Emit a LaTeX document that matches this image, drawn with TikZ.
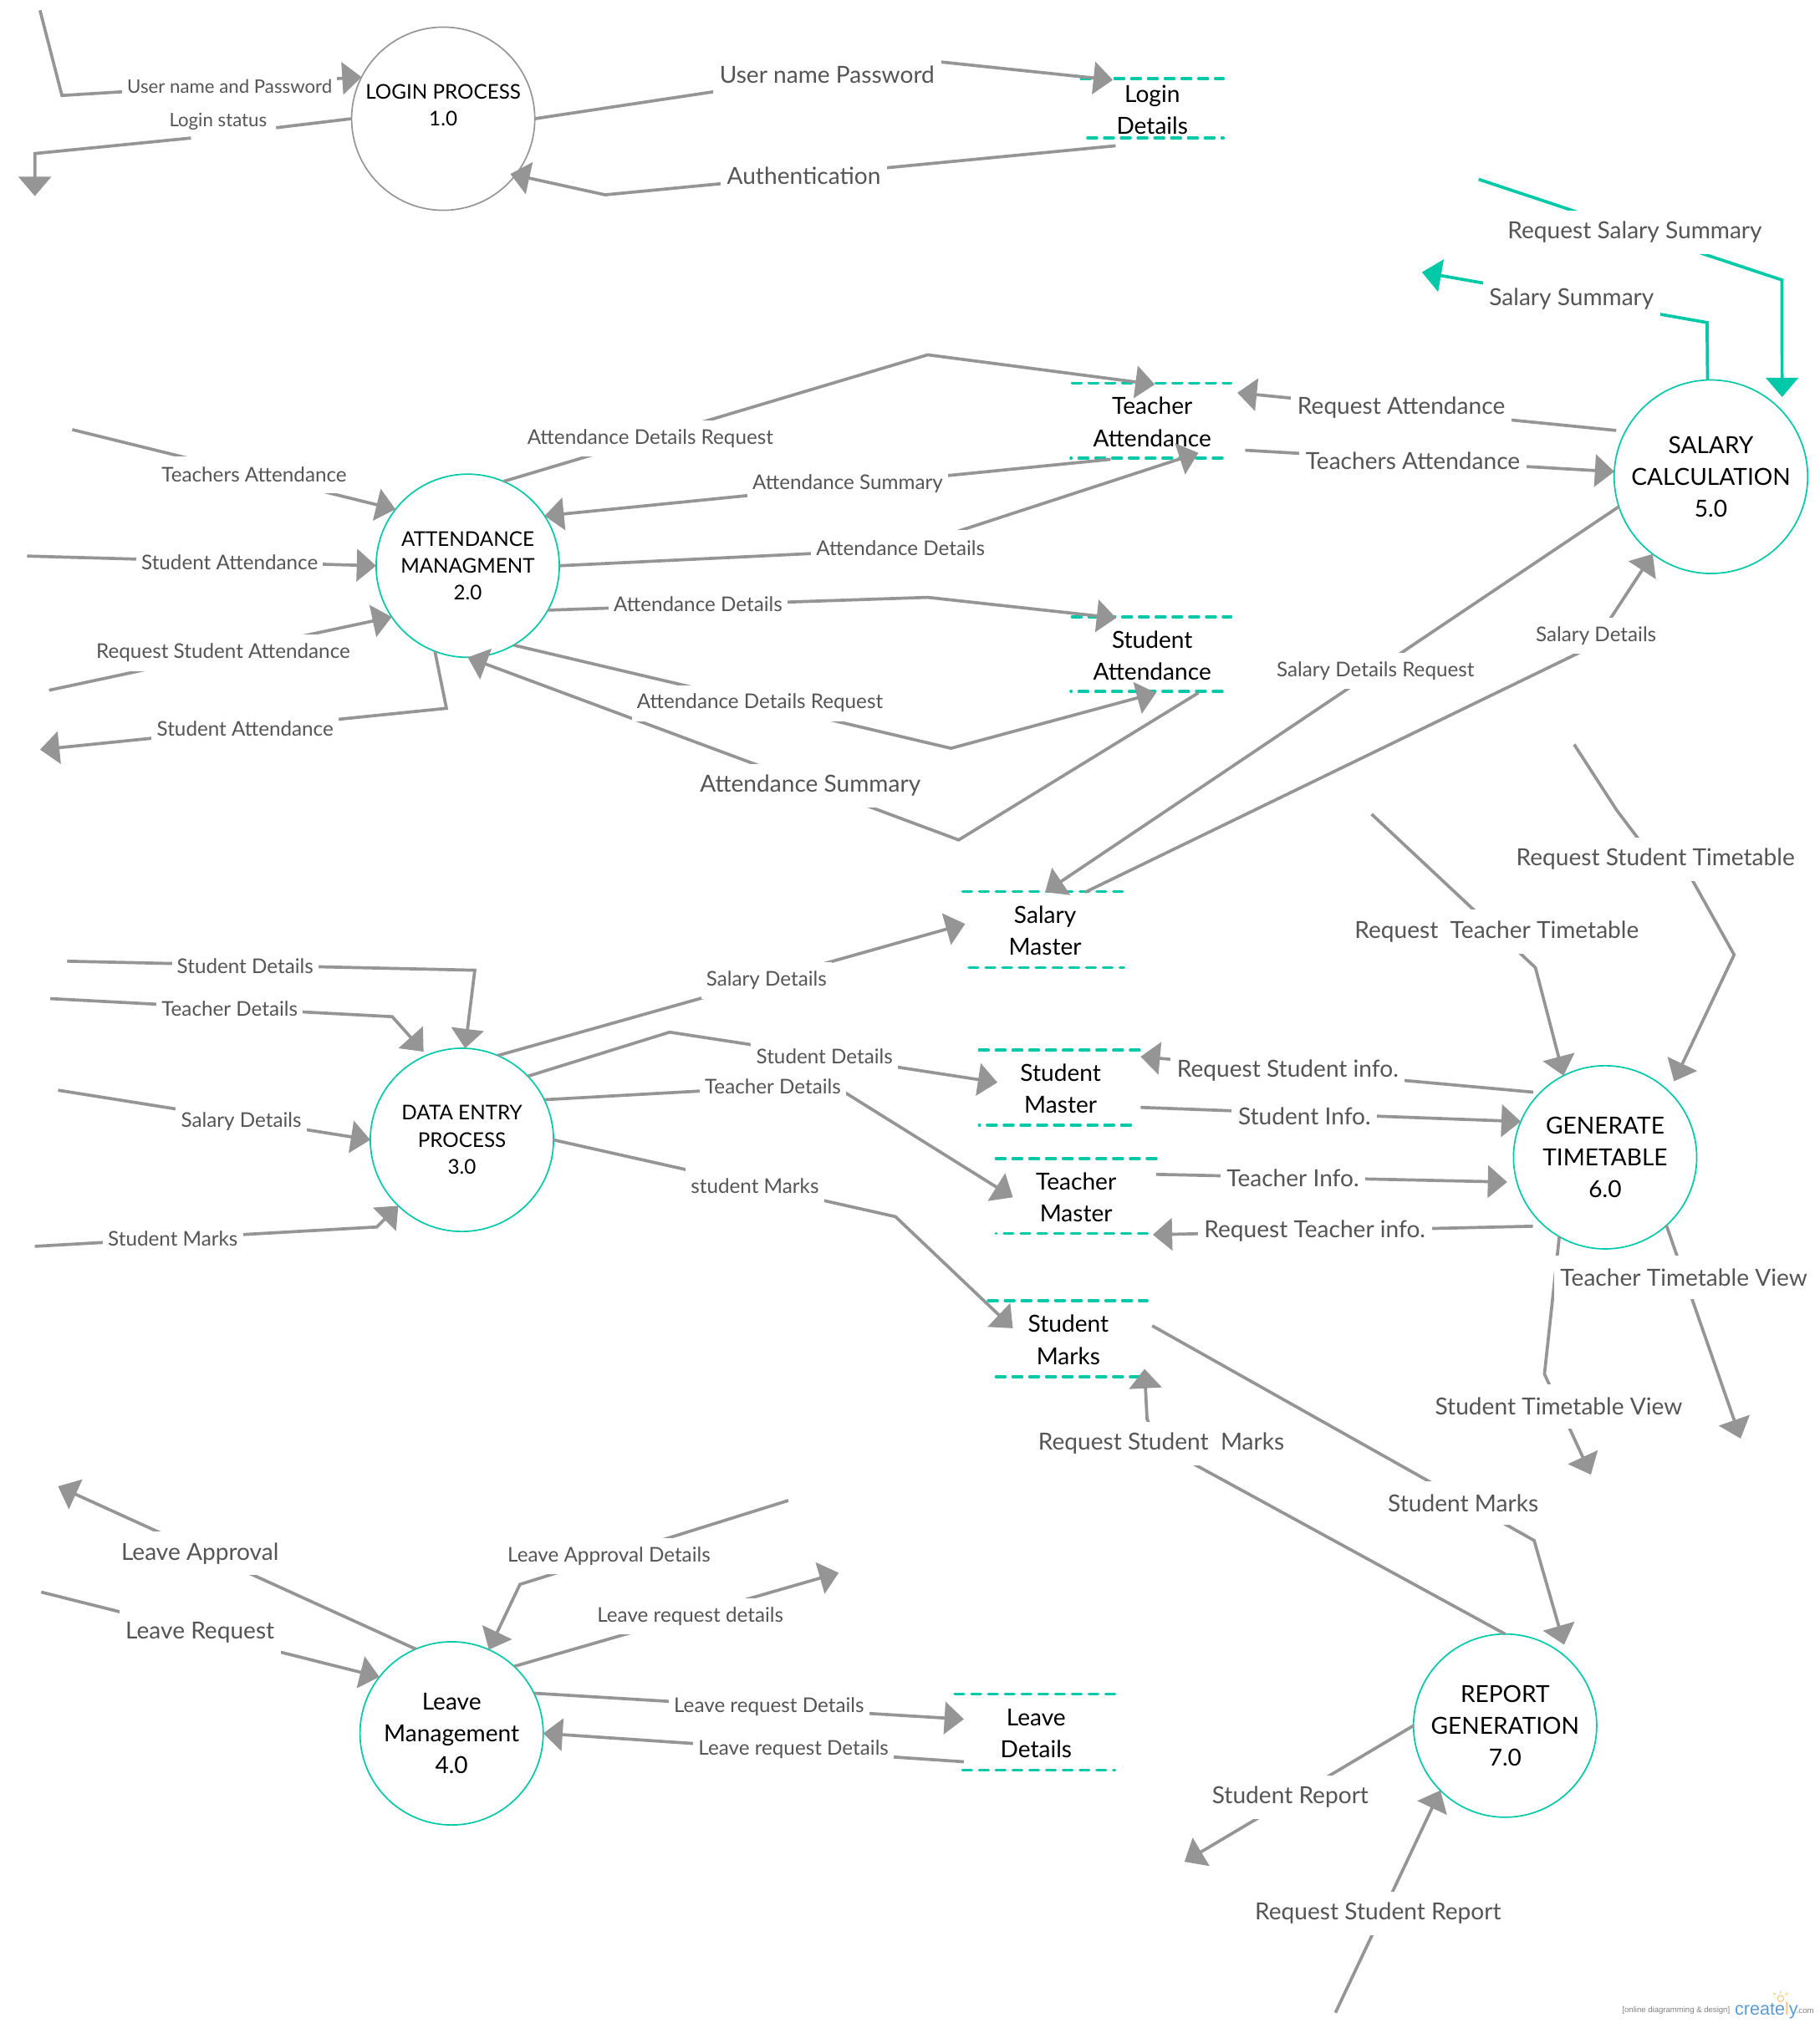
\documentclass[tikz,border=0pt]{standalone}
\usepackage{xcolor}
\usepackage{fontspec}
\setmainfont{Lato}
\newfontfamily\markfont{Liberation Sans}
\usepackage{tikz}
\usetikzlibrary{arrows.meta}
\definecolor{flowgray}{HTML}{959595}
\definecolor{teal}{HTML}{00C9A7}
\definecolor{lblgray}{HTML}{555555}
\definecolor{markblue}{HTML}{5B9BD5}
\definecolor{markyellow}{HTML}{F7C26B}
\tikzset{
  flow/.style={draw=flowgray, line width=1.2pt, -{Triangle[length=7.5pt,width=12.5pt,fill=flowgray]}},
  tealflow/.style={draw=teal, line width=1.2pt, -{Triangle[length=7.5pt,width=12.5pt,fill=teal]}},
  proc/.style={circle, draw=teal, line width=0.55pt, minimum size=71pt, inner sep=0pt, outer sep=0pt, align=center, text=black},
  store/.style={inner sep=0pt, outer sep=0pt, yshift=-0.5pt, align=center, text=black, font=\fontsize{9.1}{12.4}\selectfont},
  dashline/.style={draw=teal, line width=1.2pt, line cap=round, dash pattern=on 3.5pt off 3pt},
  dotdash/.style={dashline, dash phase=3.4pt},
  lbl/.style={fill=white, text=lblgray, inner xsep=2pt, inner ysep=0pt, minimum height=14pt, font=\fontsize{7.85}{9}\selectfont},
  slbl/.style={lbl, font=\fontsize{7.2}{9}\selectfont},
  blbl/.style={lbl, inner xsep=2.5pt, minimum height=17pt, font=\fontsize{9.1}{11}\selectfont},
  capstext/.style={font=\fontsize{7.85}{10.5}\selectfont},
  bigtext/.style={font=\fontsize{9.1}{12.3}\selectfont}
}

\begin{document}
\begin{tikzpicture}[x=0.5pt,y=-0.5pt]
  \useasboundingbox (0,0) rectangle (1410,1568);

  % processes
  \node[proc, capstext, draw=flowgray] (login) at (343.5,92) {LOGIN PROCESS\\1.0\\~};
  \node[proc, capstext] (attend) at (362.5,438.5) {ATTENDANCE\\MANAGMENT\\2.0};
  \node[proc, capstext] (dataentry) at (358,883.5) {DATA ENTRY\\PROCESS\\3.0};
  \node[proc, bigtext] (leave) at (350,1343.5) {Leave\\Management\\4.0};
  \node[proc, bigtext, minimum size=75pt] (salary) at (1326,369.5) {SALARY\\CALCULATION\\5.0};
  \node[proc, bigtext] (gentime) at (1244,897) {GENERATE\\TIMETABLE\\6.0};
  \node[proc, bigtext] (report) at (1166.5,1337.5) {REPORT\\GENERATION\\7.0};

  % data stores
  \node[store, minimum width=56pt, minimum height=23pt] (logindet) at (893,84) {Login\\Details};
  \node[store, minimum width=62pt, minimum height=29pt] (teachatt) at (893,326) {Teacher\\Attendance};
  \node[store, minimum width=62pt, minimum height=29pt] (studatt) at (893,507) {Student\\Attendance};
  \node[store, minimum width=62pt, minimum height=30pt] (salmaster) at (810,720.5) {Salary\\Master};
  \node[store, minimum width=62pt, minimum height=29pt] (stumaster) at (822,843) {Student\\Master};
  \node[store, minimum width=62pt, minimum height=29pt] (tchmaster) at (834,927) {Teacher\\Master};
  \node[store, minimum width=62pt, minimum height=29.5pt] (marks) at (828,1037.5) {Student\\Marks};
  \node[store, minimum width=62pt, minimum height=29.5pt] (leavedet) at (803,1342.5) {Leave\\Details};

  \draw[dashline] (838,61) -- (948,61) (843,107) -- (948,107);
  \draw[dashline] (831,297) -- (954,297);
  \draw[dotdash] (830,355) -- (949,355);
  \draw[dashline] (831,478) -- (954,478);
  \draw[dotdash] (830,536) -- (949,536);
  \draw[dashline] (746,691) -- (871,691) (751,750) -- (871,750);
  \draw[dashline] (759,814) -- (884,814);
  \draw[dotdash] (759,872) -- (879,872);
  \draw[dashline] (772,898) -- (896,898);
  \draw[dotdash] (772,956) -- (892,956);
  \draw[dashline] (766,1008) -- (889,1008) (772,1067) -- (884,1067);
  \draw[dashline] (740,1313) -- (864,1313) (746,1372) -- (864,1372);

  % free ends
  \coordinate (userin) at (31,8);
  \coordinate (statusout) at (27,152);
  \coordinate (statusa) at (214,99);
  \coordinate (statusb) at (148,107);
  \coordinate (sumreq) at (1146,139);
  \coordinate (sumout) at (1102,211);
  \coordinate (teachin) at (56,333);
  \coordinate (studin) at (21,431);
  \coordinate (reqstud) at (38,535);
  \coordinate (studout) at (31,581);
  \coordinate (studdetin) at (52,745);
  \coordinate (tchdetin) at (39,774);
  \coordinate (saldetin) at (45,845);
  \coordinate (marksin) at (27,966);
  \coordinate (reqstutime) at (1220,577);
  \coordinate (reqtchtime) at (1063,631);
  \coordinate (tchview) at (1349,1115);
  \coordinate (stuview) at (1233,1143);
  \coordinate (apprvout) at (45,1152);
  \coordinate (leavein) at (32,1234);
  \coordinate (apprvin) at (611,1163);
  \coordinate (leaveout) at (650,1219);
  \coordinate (repout) at (918,1443);
  \coordinate (repin) at (1035,1560);

  % login
  \draw[flow] (userin) -- (48,74) -- (login.153);
  \draw[flow] (login.west) -- (statusa) (statusb) -- (27,119) -- (statusout);
  \draw[flow] (login.east) -- (640,58) -- (729,48) -- (logindet.143);
  \draw[flow, shorten >=-2pt] ([yshift=-2.5pt]logindet.219) -- (469,151) -- (login.322);

  % salary
  \draw[tealflow] (sumreq) -- (1381,217) -- ([xshift=2.5pt,yshift=3pt]salary.48);
  \draw[tealflow] (salary.92) -- (1323,250) -- (sumout);
  \draw[flow] ([xshift=-3pt,yshift=1.5pt]salary.154) -- ([xshift=2pt]teachatt.20);
  \draw[flow] ([xshift=5pt,yshift=-1.5pt]teachatt.343) -- (salary.177);
  \draw[flow] (salary.198) -- (salmaster.north);
  \draw[flow] (salmaster.44) -- (1234,501) -- (salary.233);

  % attendance
  \draw[flow] (attend.67) -- (719,275) -- (teachatt.86);
  \draw[flow] (teachatt.222) -- (attend.33);
  \draw[flow] (attend.east) -- (700,425.6) -- ([yshift=2.5pt]teachatt.321);
  \draw[flow] (attend.331) -- (719,463) -- (studatt.134);
  \draw[flow] (attend.300) -- (737,580) -- (studatt.276);
  \draw[flow] (studatt.321) -- (743,651) -- (attend.south);
  \draw[flow] (teachin) -- (attend.142.5);
  \draw[flow] (studin) -- (attend.west);
  \draw[flow] (reqstud) -- (attend.214);
  \draw[flow] (attend.249) -- (346,549) -- (studout);

  % data entry
  \draw[flow] (studdetin) -- (368,752) -- (dataentry.88);
  \draw[flow] (tchdetin) -- (304,788) -- ([xshift=-1pt,yshift=1.5pt]dataentry.113);
  \draw[flow] (saldetin) -- (dataentry.west);
  \draw[flow] (marksin) -- (292,951) -- (dataentry.226);
  \draw[flow] (dataentry.67) -- (salmaster.175);
  \draw[flow] (dataentry.44) -- (519,800) -- ([xshift=6.5pt,yshift=2.5pt]stumaster.west);
  \draw[flow] (dataentry.26) -- (644,840) -- ([xshift=6.5pt]tchmaster.west);
  \draw[flow] (dataentry.east) -- (694,943) -- ([xshift=9.5pt,yshift=4.5pt]marks.west);

  % timetable
  \draw[flow] ([xshift=-1.5pt,yshift=1.5pt]gentime.138) -- (stumaster.22);
  \draw[flow] (stumaster.347) -- (gentime.157);
  \draw[flow] (tchmaster.16) -- ([xshift=-3.5pt,yshift=-1pt]gentime.194);
  \draw[flow] ([xshift=-2pt,yshift=-2.5pt]gentime.223) -- (tchmaster.334);
  \draw[flow] (reqstutime) -- (1253,628) -- (1281,665) -- (1302,665) -- (1344,740) -- ([xshift=2.5pt,yshift=3.5pt]gentime.47.5);
  \draw[flow] (reqtchtime) -- (1190,750) -- (gentime.117);
  \draw[flow] (gentime.312) -- (tchview);
  \draw[flow] (gentime.240) -- (1197,1065) -- (stuview);

  % report
  \draw[flow] ([xshift=1.5pt]marks.10) -- (1189,1194) -- ([xshift=1.5pt,yshift=3pt]report.53);
  \draw[flow] (report.north) -- (900,1121) -- (889,1100) -- ([xshift=-1.5pt,yshift=3.5pt]marks.south east);
  \draw[flow] (report.180) -- (repout);
  \draw[flow] (repin) -- (report.225);

  % leave
  \draw[flow] (leave.113) -- (apprvout);
  \draw[flow] (leavein) -- (leave.142);
  \draw[flow] (apprvin) -- (403,1228) -- (leave.66);
  \draw[flow] (leave.47.5) -- (leaveout);
  \draw[flow] (leave.26.7) -- ([xshift=3pt,yshift=5.5pt]leavedet.west);
  \draw[flow] ([xshift=3pt,yshift=-11pt]leavedet.west) -- (leave.east);

  % labels
  \node[slbl] (l1) at (178,67) {User name and Password};
  \node[slbl, fill=none] (l2) at (169,94) {Login status};
  \node[blbl] (l3) at (641,58) {User name Password};
  \node[blbl] (l4) at (623,136) {Authentication};
  \node[blbl] (l5) at (1267,180) {Request Salary Summary};
  \node[blbl] (l6) at (1218,232) {Salary Summary};
  \node[blbl] (l7) at (1086,316) {Request Attendance};
  \node[blbl] (l8) at (1095,357) {Teachers Attendance};
  \node[lbl] (l9) at (1066,520) {Salary Details Request};
  \node[lbl] (l10) at (1237,493) {Salary Details};
  \node[lbl] (l11) at (504,340) {Attendance Details Request};
  \node[lbl] (l12) at (657,375) {Attendance Summary};
  \node[lbl] (l13) at (698,425) {Attendance Details};
  \node[lbl] (l14) at (541,468) {Attendance Details};
  \node[lbl] (l15) at (589,545) {Attendance Details Request};
  \node[blbl] (l16) at (628,609) {Attendance Summary};
  \node[lbl] (l17) at (197,368) {Teachers Attendance};
  \node[lbl] (l18) at (178,436) {Student Attendance};
  \node[lbl] (l19) at (173,506) {Request Student Attendance};
  \node[lbl] (l20) at (190,565) {Student Attendance};
  \node[lbl] (l21) at (190,749) {Student Details};
  \node[lbl] (l22) at (178,782) {Teacher Details};
  \node[lbl] (l23) at (187,869) {Salary Details};
  \node[lbl] (l24) at (134,960) {Student Marks};
  \node[lbl] (l25) at (594,760) {Salary Details};
  \node[lbl] (l26) at (639,819) {Student Details};
  \node[lbl] (l27) at (599,842) {Teacher Details};
  \node[lbl] (l28) at (585,919) {student Marks};
  \node[blbl] (l29) at (998,830) {Request Student info.};
  \node[blbl] (l30) at (1011,865) {Student Info.};
  \node[blbl] (l31) at (1002,913) {Teacher Info.};
  \node[blbl] (l32) at (1019,954) {Request Teacher info.};
  \node[blbl] (l33) at (1283,666) {Request Student Timetable};
  \node[blbl] (l34) at (1160,722) {Request\ \ Teacher Timetable};
  \node[blbl] (l35) at (1305,990) {Teacher Timetable View};
  \node[blbl] (l36) at (1208,1090) {Student Timetable View};
  \node[blbl] (l37) at (1134,1165) {Student Marks};
  \node[blbl] (l38) at (900,1119) {Request Student\ \ Marks};
  \node[blbl] (l39) at (1000,1393) {Student Report};
  \node[blbl] (l40) at (1068,1483) {Request Student Report};
  \node[blbl] (l41) at (155,1204) {Leave Approval};
  \node[blbl] (l42) at (155,1265) {Leave Request};
  \node[lbl] (l43) at (472,1206) {Leave Approval Details};
  \node[lbl] (l44) at (535,1253) {Leave request details};
  \node[lbl] (l45) at (596,1323) {Leave request Details};
  \node[lbl] (l46) at (615,1356) {Leave request Details};

  % watermark
  \node[text=gray, inner sep=0pt, font=\markfont\fontsize{3.1}{4}\selectfont] (markline) at (1299,1558) {[online diagramming \& design]};
  \node[text=markblue, inner sep=0pt, font=\markfont\fontsize{7}{8}\selectfont] (markname) at (1369,1558) {create\textcolor{markyellow}{l}y};
  \node[text=gray, inner sep=0pt, font=\markfont\fontsize{3.1}{4}\selectfont] (markcom) at (1399,1559) {.com};
  \draw[markyellow, line width=0.3pt] (1380,1549) circle (1.2pt) (1380,1545) -- (1380,1543) (1376,1546) -- (1374.5,1544.5) (1384,1546) -- (1385.5,1544.5);
\end{tikzpicture}
\end{document}
